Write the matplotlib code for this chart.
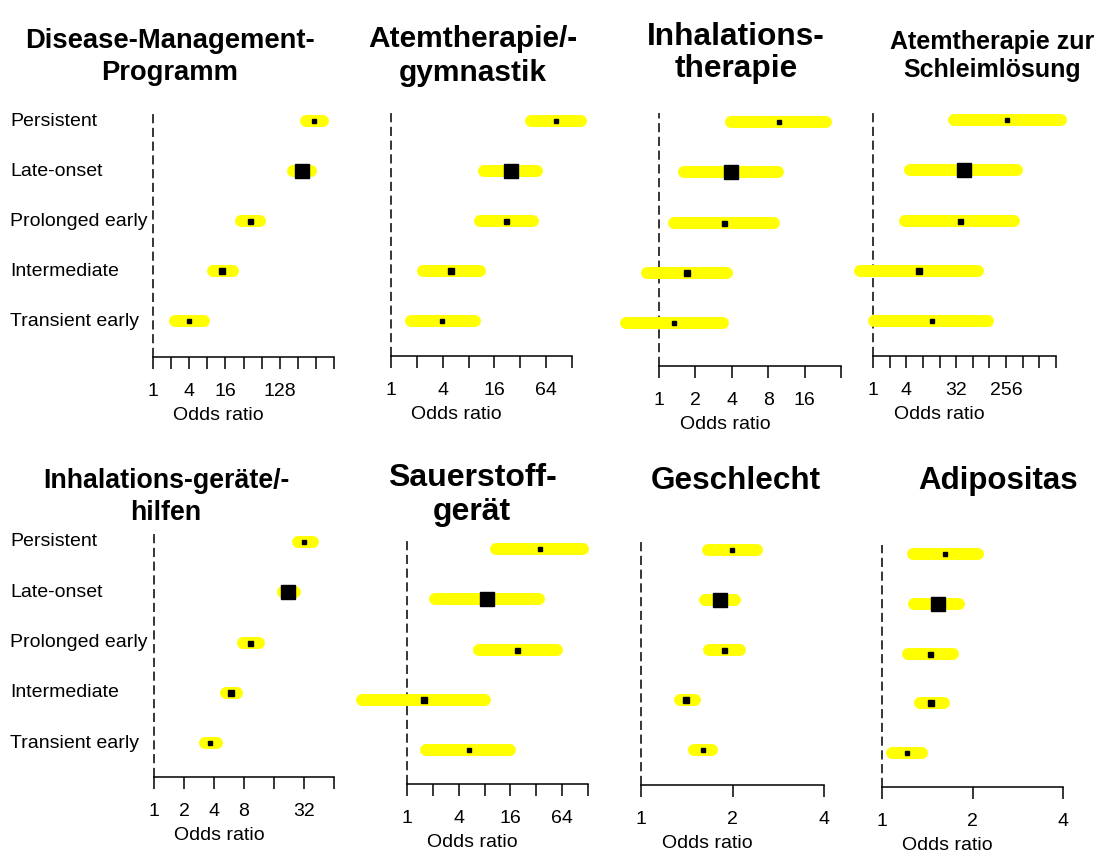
import matplotlib
matplotlib.use('Agg')
import matplotlib.pyplot as plt
import matplotlib.transforms as mtransforms

plt.rcParams['font.family'] = ['Liberation Sans', 'DejaVu Sans']

groups = ['Persistent', 'Late-onset', 'Prolonged early', 'Intermediate', 'Transient early']

titles = ['Disease-Management-\nProgramm', 'Atemtherapie/-\ngymnastik',
          'Inhalations-\ntherapie', 'Atemtherapie zur\nSchleimlösung',
          'Inhalations-geräte/-\nhilfen', 'Sauerstoff-\ngerät',
          'Geschlecht', 'Adipositas']

# odds ratios with 95% CI, same order as groups
dmp_or = [471, 300, 41.6, 14.2, 3.97]
dmp_lo = [345, 212, 28.6, 9.9, 2.33]
dmp_hi = [662, 431, 61.0, 21.4, 6.96]

atem_or = [83.3, 24.9, 21.9, 5.03, 3.97]
atem_lo = [42.5, 12.0, 10.9, 2.35, 1.69]
atem_hi = [161, 50.2, 44.9, 10.8, 9.5]

inh_or = [9.85, 3.97, 3.46, 1.72, 1.34]
inh_lo = [3.95, 1.61, 1.34, 0.80, 0.536]
inh_hi = [23.9, 9.65, 8.94, 3.68, 3.36]

schleim_or = [267, 44.0, 36.8, 6.77, 11.5]
schleim_lo = [29.0, 4.66, 3.78, 0.58, 1.04]
schleim_hi = [2521, 410, 357, 81.0, 123]

geraet_or = [32.2, 22.3, 9.25, 5.94, 3.66]
geraet_lo = [27.7, 19.6, 7.89, 5.28, 3.25]
geraet_hi = [39.7, 25.8, 11.2, 6.87, 4.29]

o2_or = [35.0, 8.46, 19.3, 1.56, 5.24]
o2_lo = [11.0, 2.14, 6.92, 0.30, 1.67]
o2_hi = [113, 34.1, 56.5, 8.0, 16.0]

sex_or = [1.99, 1.82, 1.88, 1.41, 1.60]
sex_lo = [1.66, 1.62, 1.67, 1.34, 1.49]
sex_hi = [2.40, 2.04, 2.11, 1.51, 1.71]

adip_or = [1.62, 1.53, 1.44, 1.46, 1.21]
adip_lo = [1.27, 1.28, 1.22, 1.34, 1.08]
adip_hi = [2.08, 1.80, 1.72, 1.61, 1.36]

est = [dmp_or, atem_or, inh_or, schleim_or, geraet_or, o2_or, sex_or, adip_or]
low = [dmp_lo, atem_lo, inh_lo, schleim_lo, geraet_lo, o2_lo, sex_lo, adip_lo]
high = [dmp_hi, atem_hi, inh_hi, schleim_hi, geraet_hi, o2_hi, sex_hi, adip_hi]

# axis: highest power of 2 and which ticks get a label
tick_max = [10, 7, 5, 11, 6, 7, 2, 2]
tick_shown = [[1, 4, 16, 128], [1, 4, 16, 64], [1, 2, 4, 8, 16], [1, 4, 32, 256],
              [1, 2, 4, 8, 32], [1, 4, 16, 64], [1, 2, 4], [1, 2, 4]]

# layout in pixels: x of OR=1, x of max, top of dashed line, axis y, first row y, last row y
W, H = 1113, 859
boxes = [
    (153, 334, 112, 357, 121, 321),
    (391, 572, 112, 356, 121, 321),
    (659, 841, 113, 366, 122, 323),
    (873, 1056, 112, 356, 120, 321),
    (154, 334, 533, 777, 542, 743),
    (407, 588, 540, 784, 549, 750),
    (641, 824, 542, 785, 550, 750),
    (882, 1063, 545, 787, 554, 753),
]
title_pos = [(170, 57), (473, 56), (736, 53), (992, 56),
             (166, 497), (472, 495), (736, 481), (998, 481)]
title_size = [19.7, 21.5, 22.8, 18, 19.3, 23, 22.7, 22.5]
title_gap = [34, 35, 33, 28, 34, 35, 0, 0]
box_size = [3.2, 9.5, 3.6, 5, 3.2]
yellow = '#ffff00'

fig = plt.figure(figsize=(W / 100, H / 100), dpi=100)

for k in range(8):
    x1, x2, ytop, yax, r0, r4 = boxes[k]
    ax = fig.add_axes([x1 / W, 1 - yax / H, (x2 - x1) / W, (yax - ytop) / H])
    step = (r4 - r0) / 4
    ax.set_ylim(4 + (yax - r4) / step, -(r0 - ytop) / step)
    ax.set_xscale('log', base=2)
    ax.set_xlim(1, 2 ** tick_max[k])

    for i in range(len(groups)):
        ax.plot([low[k][i], high[k][i]], [i, i], color=yellow, lw=8.6,
                solid_capstyle='round', clip_on=False, zorder=2)
        ax.plot(est[k][i], i, marker='s', ms=box_size[i], color='black',
                clip_on=False, zorder=3)

    ax.axvline(1, color='black', lw=1.1, ls=(0, (6, 3)), clip_on=False, zorder=1)

    for s in ['top', 'right', 'left']:
        ax.spines[s].set_visible(False)
    ax.spines['bottom'].set_linewidth(1.1)
    ax.spines['bottom'].set_bounds(1, 2 ** tick_max[k])
    ticks = [2 ** e for e in range(tick_max[k] + 1)]
    ax.set_xticks(ticks)
    ax.set_xticklabels([str(t) if t in tick_shown[k] else '' for t in ticks])
    ax.xaxis.set_minor_locator(matplotlib.ticker.NullLocator())
    ax.tick_params(axis='x', length=8.5, width=1.1, labelsize=14, pad=10)
    ax.set_yticks([])
    ax.set_xlabel('Odds ratio', fontsize=14)
    ax.xaxis.set_label_coords(0.5 - 25 / (x2 - x1), -50 / (yax - ytop))

    if k in (0, 4):
        tr = mtransforms.blended_transform_factory(fig.transFigure, ax.transData)
        for i, g in enumerate(groups):
            ax.text(10 / W, i, g, transform=tr, ha='left', va='center', fontsize=14)

    tx, ty = title_pos[k]
    size_px = title_size[k] * 100 / 72
    ls = title_gap[k] / (0.94 * size_px) if title_gap[k] else 1.2
    fig.text(tx / W, 1 - ty / H, titles[k], ha='center', va='center',
             fontsize=title_size[k], fontweight='bold', linespacing=ls)

fig.savefig('out.png', dpi=100)
